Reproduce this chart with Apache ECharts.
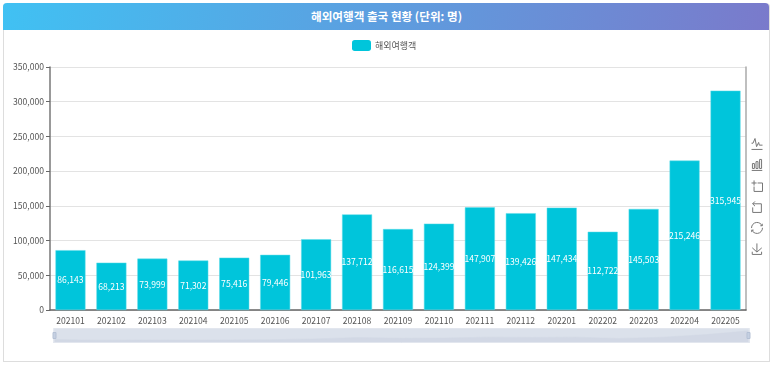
<!DOCTYPE html>
<html>
<head>
<meta charset="utf-8">
<script src="https://cdn.jsdelivr.net/npm/echarts@6/dist/echarts.min.js"></script>
<style>
html,body{margin:0;padding:0;width:773px;height:366px;background:#fff;overflow:hidden;font-family:"Noto Sans CJK KR",sans-serif}
#card{position:absolute;left:3px;top:3px;width:765px;height:358px;border:1px solid #ddd;border-top:none;border-radius:4px 4px 0 0;box-sizing:content-box}
#head{position:absolute;left:3px;top:3px;width:766px;height:27px;border-radius:4px 4px 0 0;background:linear-gradient(100deg,#40c1f3 0%,#7a7acb 100%);color:#fff;font-size:11.6px;font-weight:700;line-height:26px;text-align:center;padding-left:1px;box-sizing:border-box}
#chart{position:absolute;left:0;top:0;width:773px;height:366px}
</style>
</head>
<body>
<div id="card"></div>
<div id="chart"></div>
<div id="head">해외여행객 출국 현황 (단위: 명)</div>
<script>
const categories = ['202101','202102','202103','202104','202105','202106','202107','202108','202109','202110','202111','202112','202201','202202','202203','202204','202205'];
const seriesName = '해외여행객';
const values = [86143,68213,73999,71302,75416,79446,101963,137712,116615,124399,147907,139426,147434,112722,145503,215246,315945];
const yTicks = {min:0,max:350000,interval:50000};
const chart = echarts.init(document.getElementById('chart'),null,{renderer:'canvas'});
const font = '"Noto Sans CJK KR","Noto Sans",sans-serif';
chart.setOption({
  animation:false,
  textStyle:{fontFamily:font},
  legend:{top:35,left:347,itemWidth:19,itemHeight:11,data:[seriesName],itemStyle:{borderWidth:0},textStyle:{fontSize:9,color:'#555',fontFamily:font,padding:[0,0,0,-1]}},
  grid:{left:50,right:27,top:67,bottom:56},
  toolbox:{show:true,showTitle:false,orient:'vertical',left:744,top:131,itemSize:11,itemGap:5,padding:5,
    iconStyle:{borderColor:'#777'},
    feature:{magicType:{type:['line','bar']},dataZoom:{yAxisIndex:'none'},restore:{},saveAsImage:{}}},
  xAxis:{type:'category',data:categories,
    axisLine:{lineStyle:{color:'#666',width:1.5}},axisTick:{lineStyle:{color:'#555'},length:4},
    axisLabel:{fontSize:8.6,color:'#555',margin:6,interval:0,fontFamily:font}},
  yAxis:[{type:'value',min:yTicks.min,max:yTicks.max,interval:yTicks.interval,
    axisLine:{show:true,lineStyle:{color:'#777',width:1.5}},axisTick:{show:true,lineStyle:{color:'#666'},length:4},
    axisLabel:{fontSize:8.6,color:'#555',margin:6,fontFamily:font,formatter:v=>v.toLocaleString('en-US')},
    splitLine:{lineStyle:{color:'#e3e3e3',width:1}}},
    {type:'value',position:'right',min:yTicks.min,max:yTicks.max,interval:yTicks.interval,
    axisLine:{show:true,lineStyle:{color:'#aaa',width:1.5}},axisTick:{show:false},axisLabel:{show:false},splitLine:{show:false}}],
  dataZoom:[{type:'slider',xAxisIndex:0,left:51,right:26,top:328,height:15,start:0,end:100,borderRadius:0,
    showDetail:false,borderColor:'#e2e6ee',backgroundColor:'#dbe1eb',fillerColor:'rgba(219,225,235,0.3)',
    handleIcon:'path://M0,0 L3,0 L3,6 L0,6Z',handleSize:6,handleStyle:{color:'#c5d0e2',borderColor:'#b5c1d5'},moveHandleSize:0,
    dataBackground:{lineStyle:{color:'#ced5e2',width:0.5},areaStyle:{color:'#ced5e2',opacity:1}},
    selectedDataBackground:{lineStyle:{color:'#ced5e2',width:0.5},areaStyle:{color:'#ced5e2',opacity:1}}}],
  series:[{name:seriesName,type:'bar',data:values,barWidth:30,
    itemStyle:{color:'#00c5db',borderColor:'#5edce9',borderWidth:0.5},
    label:{show:true,position:'inside',color:'#fff',fontSize:8.6,fontFamily:font,formatter:p=>p.value.toLocaleString('en-US')}}]
});
</script>
</body>
</html>
